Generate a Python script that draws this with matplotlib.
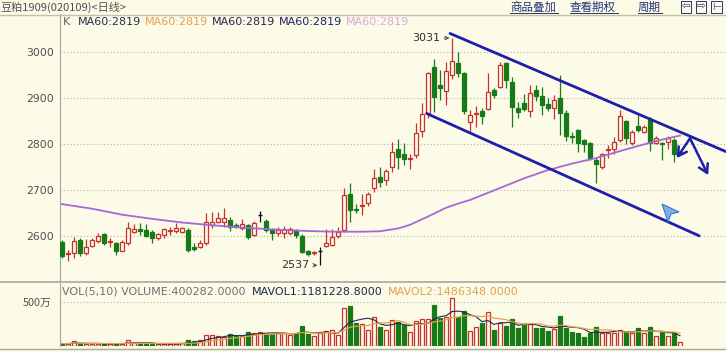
import numpy as np
import pandas as pd
import matplotlib
matplotlib.use("Agg")
import matplotlib.pyplot as plt
from matplotlib.patches import Rectangle, Polygon

# ---- data ----
opens = [2588, 2562, 2563, 2591, 2564, 2579, 2590, 2604, 2587, 2586,
         2569, 2585, 2609, 2616, 2614, 2610, 2597, 2603, 2612, 2611,
         2609, 2614, 2576, 2576, 2585, 2625, 2632, 2631, 2635, 2624,
         2617, 2624, 2603, 2646, 2633, 2614, 2607, 2607, 2608, 2614,
         2601, 2567, 2564, 2568, 2579, 2581, 2601, 2614, 2693, 2660,
         2666, 2673, 2704, 2730, 2722, 2751, 2790, 2778, 2769, 2777,
         2830, 2867, 2967, 2929, 2916, 2951, 2977, 2954, 2849, 2866,
         2872, 2877, 2918, 2925, 2976, 2936, 2878, 2889, 2872, 2918,
         2905, 2887, 2880, 2900, 2867, 2819, 2830, 2809, 2802, 2766,
         2751, 2788, 2790, 2809, 2851, 2802, 2840, 2827, 2853, 2802,
         2803, 2806, 2809, 2780]
highs = [2592, 2570, 2599, 2596, 2594, 2596, 2607, 2607, 2597, 2588,
         2592, 2631, 2627, 2629, 2627, 2614, 2607, 2619, 2620, 2629,
         2620, 2617, 2585, 2592, 2650, 2652, 2652, 2661, 2642, 2628,
         2637, 2627, 2633, 2656, 2637, 2617, 2620, 2622, 2620, 2616,
         2604, 2571, 2567, 2576, 2615, 2616, 2620, 2704, 2715, 2670,
         2693, 2696, 2746, 2751, 2746, 2804, 2811, 2802, 2780, 2846,
         2889, 2957, 2985, 2962, 2980, 3031, 3001, 2958, 2875, 2883,
         2879, 2954, 2923, 2980, 2980, 2947, 2893, 2910, 2929, 2929,
         2925, 2900, 2907, 2951, 2875, 2826, 2833, 2811, 2804, 2770,
         2782, 2799, 2815, 2875, 2853, 2831, 2864, 2841, 2859, 2817,
         2806, 2817, 2813, 2786]
lows = [2552, 2546, 2552, 2558, 2560, 2577, 2586, 2581, 2577, 2560,
        2567, 2581, 2607, 2603, 2598, 2586, 2592, 2596, 2603, 2607,
        2607, 2566, 2567, 2574, 2581, 2618, 2630, 2621, 2611, 2618,
        2614, 2594, 2601, 2632, 2609, 2592, 2600, 2596, 2603, 2596,
        2563, 2557, 2559, 2537, 2576, 2579, 2596, 2610, 2632, 2650,
        2646, 2666, 2696, 2708, 2712, 2740, 2746, 2755, 2746, 2771,
        2815, 2857, 2871, 2896, 2885, 2943, 2947, 2866, 2827, 2838,
        2845, 2875, 2901, 2922, 2922, 2838, 2857, 2873, 2859, 2895,
        2864, 2872, 2854, 2820, 2807, 2803, 2784, 2784, 2766, 2715,
        2746, 2770, 2778, 2806, 2800, 2799, 2827, 2824, 2786, 2800,
        2766, 2790, 2762, 2776]
closes = [2558, 2564, 2590, 2563, 2577, 2592, 2600, 2585, 2589, 2567,
          2588, 2617, 2616, 2611, 2601, 2597, 2604, 2616, 2614, 2619,
          2617, 2570, 2573, 2585, 2632, 2632, 2639, 2639, 2620, 2621,
          2627, 2599, 2630, 2646, 2614, 2608, 2614, 2615, 2615, 2603,
          2565, 2562, 2566, 2568, 2586, 2599, 2609, 2690, 2657, 2657,
          2668, 2693, 2726, 2717, 2742, 2784, 2773, 2769, 2771, 2825,
          2865, 2954, 2903, 2922, 2959, 2980, 2954, 2872, 2864, 2868,
          2862, 2914, 2908, 2972, 2940, 2882, 2871, 2876, 2911, 2904,
          2885, 2879, 2896, 2867, 2818, 2816, 2802, 2801, 2770, 2757,
          2779, 2790, 2806, 2862, 2813, 2827, 2831, 2838, 2802, 2813,
          2801, 2813, 2780, 2783]
# volume in units of 10k (万)
volumes = [25, 20, 50, 22, 20, 20, 22, 25, 18, 22,
           25, 70, 28, 22, 25, 20, 18, 22, 20, 25,
           28, 65, 55, 60, 120, 118, 115, 105, 135, 110,
           115, 155, 150, 160, 140, 135, 145, 145, 125, 140,
           225, 140, 110, 145, 170, 175, 125, 430, 455, 265,
           255, 180, 335, 220, 180, 295, 275, 240, 160, 285,
           305, 305, 465, 315, 335, 545, 335, 400, 170, 220,
           265, 390, 180, 265, 225, 305, 200, 245, 255, 205,
           200, 170, 190, 340, 205, 155, 150, 105, 150, 215,
           150, 150, 150, 180, 160, 150, 205, 150, 210, 115,
           155, 115, 150, 40]
# MA60 read at some candles
ma60_idx = [0, 5, 10, 15, 20, 25, 30, 35, 40, 45, 50, 53, 56, 58, 61, 64,
            66, 68, 73, 77, 81, 85, 89, 94, 99, 103]
ma60_val = [2670, 2660, 2647, 2638, 2630, 2624, 2619, 2615, 2612, 2610, 2610,
            2611, 2617, 2625, 2643, 2662, 2671, 2679, 2705, 2726, 2744, 2758,
            2770, 2789, 2807, 2819]
price_ticks = [2600, 2700, 2800, 2900, 3000]
# hand-drawn channel lines (candle index, price)
upper_line = [(64.67, 3041), (110.67, 2784)]
lower_line = [(60.78, 2867), (106.2, 2601)]
hand_arrow = [(102.45, 2770), (104.67, 2813), (107.7, 2733)]

W, H = 726, 352
BG = '#fbfbe8'
RED = '#c8302c'
GREEN = '#167a16'
GRID = '#b4b4a8'
AXC = '#a4a49c'
CJK = ['Noto Sans CJK SC', 'DejaVu Sans']


def fx(px):
    return px / W


def fy(py):
    return 1 - py / H


def price_at(py):
    return 3000 - (py - 52.3) / 0.46


def idx_at(px):
    return (px - 62) / 6.0


fig = plt.figure(figsize=(7.26, 3.52), dpi=100)
fig.patch.set_facecolor(BG)

# ---- price panel ----
ax = fig.add_axes([fx(60), fy(281), fx(726) - fx(60), fy(14) - fy(281)])
ax.set_facecolor(BG)
ax.set_xlim(idx_at(60), idx_at(726))
ax.set_ylim(price_at(281), price_at(14))
for s in ['top', 'right', 'bottom']:
    ax.spines[s].set_visible(False)
ax.spines['left'].set_color(AXC)
ax.set_xticks([])
ax.set_yticks(price_ticks)
ax.set_yticklabels([str(t) for t in price_ticks])
ax.tick_params(axis='y', length=0, pad=4.5, labelsize=7.8, labelcolor='#505050')
for t in price_ticks:
    ax.axhline(t, color=GRID, lw=0.8, ls=(0, (1, 2)), zorder=0)

bw = 0.66
for i in range(len(opens)):
    o, h, l, c = opens[i], highs[i], lows[i], closes[i]
    if c > o:
        ax.vlines(i, c, h, color=RED, lw=0.9, zorder=2)
        ax.vlines(i, l, o, color=RED, lw=0.9, zorder=2)
        ax.add_patch(Rectangle((i - bw / 2, o), bw, c - o, facecolor=BG,
                               edgecolor=RED, lw=0.9, zorder=3))
    elif c < o:
        ax.vlines(i, l, h, color=GREEN, lw=0.9, zorder=2)
        ax.add_patch(Rectangle((i - bw / 2, c), bw, o - c, facecolor=GREEN,
                               edgecolor=GREEN, lw=0.9, zorder=3))
    else:
        ax.vlines(i, l, h, color='#101010', lw=0.9, zorder=2)
        ax.hlines(o, i - bw / 2, i + bw / 2, color='#101010', lw=1.0, zorder=3)

ax.plot(ma60_idx, ma60_val, color='#a866d8', lw=1.3, zorder=4)

# channel lines and drawn arrows
for ln in [upper_line, lower_line]:
    ax.plot([p[0] for p in ln], [p[1] for p in ln], color='#1e1eaa', lw=2.0,
            solid_capstyle='round', zorder=5)
ap = dict(arrowstyle='->,head_length=0.6,head_width=0.35', color='#1e1eaa', lw=1.8,
          shrinkA=0, shrinkB=0)
ax.annotate('', xy=hand_arrow[0], xytext=hand_arrow[1], arrowprops=ap, zorder=5)
ax.annotate('', xy=hand_arrow[2], xytext=hand_arrow[1], arrowprops=ap, zorder=5)

# small blue cursor
cur = [(662, 204), (679, 212), (671, 214), (668, 222)]
ax.add_patch(Polygon([(idx_at(px), price_at(py)) for px, py in cur], closed=True,
                     facecolor='#7aaeea', edgecolor='#3a78c8', lw=0.8, zorder=6))

# high / low markers
hi_i = int(np.argmax(highs))
lo_i = int(np.argmin(lows))
arr = dict(arrowstyle='->,head_length=0.3,head_width=0.15', color='#404040', lw=0.7,
           shrinkA=1, shrinkB=1)
ax.annotate(str(highs[hi_i]), xy=(hi_i - 0.2, highs[hi_i]),
            xytext=(hi_i - 2.0, highs[hi_i]), ha='right', va='center',
            fontsize=8, color='#303030', arrowprops=arr)
ax.annotate(str(lows[lo_i]), xy=(lo_i - 0.2, lows[lo_i]),
            xytext=(lo_i - 1.7, lows[lo_i]), ha='right', va='center',
            fontsize=8, color='#303030', arrowprops=arr)

# ---- volume panel ----
vx = fig.add_axes([fx(60), fy(346), fx(726) - fx(60), fy(283) - fy(346)])
vx.set_facecolor(BG)
vx.set_xlim(idx_at(60), idx_at(726))
vx.set_ylim(-3.5, 722)
for s in ['top', 'right', 'bottom']:
    vx.spines[s].set_visible(False)
vx.spines['left'].set_color(AXC)
vx.set_xticks([])
vx.set_yticks([500])
vx.set_yticklabels(['500万'], family=CJK)
vx.tick_params(axis='y', length=0, pad=6, labelsize=7.8, labelcolor='#505050')
vx.axhline(500, color=GRID, lw=0.8, ls=(0, (1, 2)), zorder=0)

up = np.array(closes) >= np.array(opens)
xs = np.arange(len(volumes))
vx.bar(xs, volumes, width=bw, color=np.where(up, BG, GREEN),
       edgecolor=np.where(up, RED, GREEN), lw=0.9, zorder=2)
vs = pd.Series(volumes, dtype=float)
vx.plot(xs, vs.rolling(5, min_periods=1).mean(), color='#1e2850', lw=0.8, zorder=3)
vx.plot(xs, vs.rolling(10, min_periods=1).mean(), color='#e8a048', lw=0.9, zorder=3)

# ---- header and frame ----
fig.text(fx(0), fy(7), '豆粕1909(020109)<日线>', family=CJK, fontsize=8,
         color='#505050', va='center', ha='left')
links = [('商品叠加', 510), ('查看期权', 570), ('周期', 638)]
for txt, px in links:
    fig.text(fx(px), fy(7), txt, family=CJK, fontsize=8.3, color='#2c3478',
             va='center', ha='left')
    wpx = 12 * len(txt)
    fig.add_artist(plt.Line2D([fx(px), fx(px + wpx)], [fy(13), fy(13)],
                              color='#2c3478', lw=0.7))
for k, g in enumerate(['⇦', '⇨', '⊢']):
    fig.text(fx(682 + 15 * k), fy(7), g, fontsize=7.5, color='#2c3478', va='center',
             ha='left', bbox=dict(boxstyle='square,pad=0.05', fc=BG, ec='#2c3478', lw=0.7))
fig.add_artist(plt.Line2D([0, 1], [fy(14.5), fy(14.5)], color='#c8c0a0', lw=1.0))
fig.add_artist(plt.Line2D([0, 1], [fy(281.5), fy(281.5)], color='#a8a8a0', lw=1.2))
fig.add_artist(plt.Line2D([0, 1], [fy(349), fy(349)], color='#a8a8a0', lw=1.0))

fig.text(fx(63), fy(22), 'K', fontsize=8, color='#606060', va='center')
ma_cols = ['#2a3050', '#e8a050', '#3a1a50', '#20206a', '#e0a4e4']
for k, col in enumerate(ma_cols):
    fig.text(fx(78 + 67 * k), fy(22), 'MA60:%d' % ma60_val[-1], fontsize=8,
             color=col, va='center')

fig.text(fx(62), fy(292), 'VOL(5,10) VOLUME:%.4f' % (volumes[-1] * 1e4 + 282),
         fontsize=8, color='#707070', va='center')
fig.text(fx(252), fy(292), 'MAVOL1:1181228.8000', fontsize=8, color='#1e2850', va='center')
fig.text(fx(388), fy(292), 'MAVOL2:1486348.0000', fontsize=8, color='#e0a050', va='center')

fig.savefig('out.png', dpi=100, facecolor=BG)
